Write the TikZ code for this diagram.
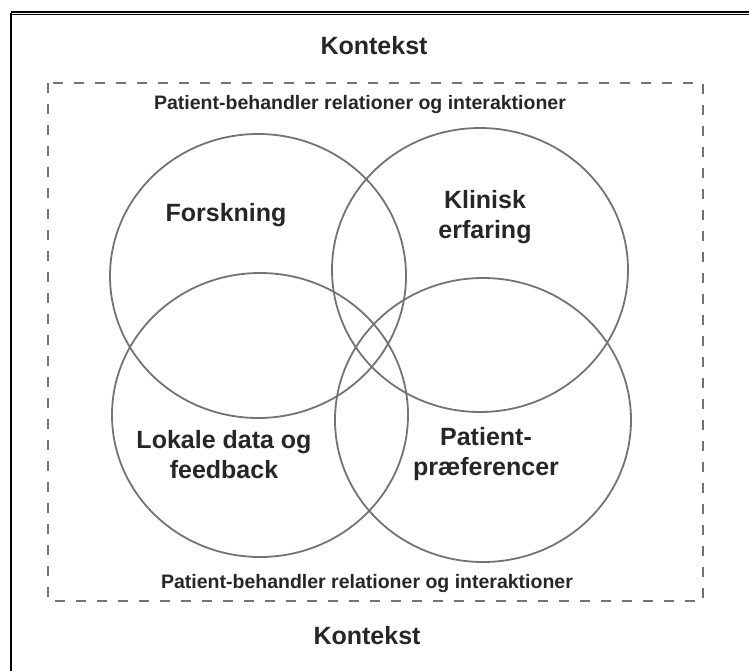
\documentclass[tikz,border=0pt]{standalone}
\usepackage{fontspec}
\setmainfont{Liberation Sans}
\begin{document}
\begin{tikzpicture}[x=1pt,y=-1pt,
  ring/.style={draw=black!55, line width=1.8pt},
  dashframe/.style={draw=black!55, line width=1.6pt, dash pattern=on 10pt off 11pt},
  heading/.style={font=\bfseries\fontsize{25}{28}\selectfont, text=black!85},
  band/.style={font=\bfseries\fontsize{19.5}{22}\selectfont, text=black!85},
  lbl/.style={font=\bfseries\fontsize{25}{30}\selectfont, text=black!85, align=center}]
\useasboundingbox (0,0) rectangle (749,671);

% outer page frame
\coordinate (fTL) at (11,13);
\coordinate (fTR) at (749,13);
\coordinate (fBL) at (11,671);
\draw[black, line width=1.2pt, double=white, double distance=0.9pt] (fTL) -- (fTR);
\draw[black, line width=2pt] (fTL) -- (fBL);

% dashed context frame
\coordinate (dTL) at (48,83);
\coordinate (dBR) at (703,601);
\draw[dashframe] (dTL) rectangle (dBR);

% the four overlapping circles
\draw[ring] (258,276) ellipse [x radius=148pt, y radius=142pt];
\draw[ring] (480,270) ellipse [x radius=148pt, y radius=142pt];
\draw[ring] (260,415) ellipse [x radius=148pt, y radius=142pt];
\draw[ring] (483,420) ellipse [x radius=148pt, y radius=142pt];

% texts
\node[heading] (ktop) at (374,46) {Kontekst};
\node[heading] (kbot) at (367,636) {Kontekst};
\node[band] (rtop) at (360,105) {Patient-behandler relationer og interaktioner};
\node[band] (rbot) at (367,583) {Patient-behandler relationer og interaktioner};

\node[lbl] (forsk) at (226,215) {Forskning};
\node[lbl] (klin) at (485,217) {Klinisk\\erfaring};
\node[lbl] (lokal) at (224,455) {Lokale data og\\feedback};
\node[lbl] (pref) at (486,454) {Patient-\\præferencer};
\end{tikzpicture}
\end{document}
